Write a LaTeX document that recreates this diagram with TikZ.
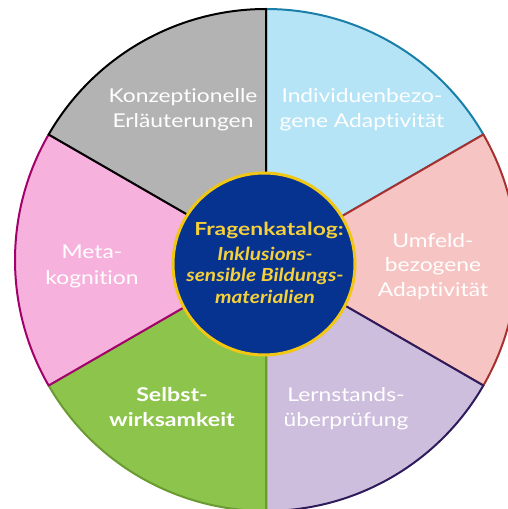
\documentclass[tikz,border=0pt]{standalone}
\usepackage{fontspec}
\setmainfont{Lato}
\newfontfamily\lbfont{Lato}[FakeStretch=1.2, Ligatures=CommonOff]
\newfontfamily\sbfont{Lato}[FakeStretch=1.22, Ligatures=CommonOff]
\newfontfamily\hbfont{Lato}[FakeStretch=1.27, Ligatures=CommonOff]
\newfontfamily\hifont{Lato}[FakeStretch=1.16, Ligatures=CommonOff]
\definecolor{cgray}{HTML}{B3B3B3}
\definecolor{cblue}{HTML}{B5E4F6}
\definecolor{bblue}{HTML}{1A7FA8}
\definecolor{csalmon}{HTML}{F6C4C2}
\definecolor{bsalmon}{HTML}{A8302F}
\definecolor{clav}{HTML}{CEBEDD}
\definecolor{blav}{HTML}{2D1B5C}
\definecolor{cgreen}{HTML}{8DC44B}
\definecolor{bgreen}{HTML}{6A9A32}
\definecolor{cpink}{HTML}{F6B2DD}
\definecolor{bpink}{HTML}{A3006B}
\definecolor{cnavy}{HTML}{06338F}
\definecolor{cgold}{HTML}{F2C713}
\definecolor{ctext}{HTML}{F5D03A}
\begin{document}
\begin{tikzpicture}[x=1pt,y=1pt,
  sector/.style={line width=2pt, line join=round},
  lbl/.style={text=white, font=\lbfont\fontsize{19}{23}\selectfont, anchor=base, inner sep=0pt},
  lblb/.style={lbl, font=\sbfont\fontsize{19}{23}\selectfont\bfseries},
  hubt/.style={text=ctext, anchor=base, inner sep=0pt, font=\hifont\fontsize{18}{20}\selectfont\bfseries\itshape},
  hubtu/.style={hubt, font=\hbfont\fontsize{18}{20}\selectfont\bfseries}]
\useasboundingbox (0,0) rectangle (508,509);
\clip (0,0) rectangle (508,509);
\coordinate (O) at (266,249);
\filldraw[sector, fill=cblue, draw=bblue] (O) -- +(30:251) arc[start angle=30, end angle=90, radius=251] -- cycle;
\filldraw[sector, fill=csalmon, draw=bsalmon] (O) -- +(-30:251) arc[start angle=-30, end angle=30, radius=251] -- cycle;
\filldraw[sector, fill=clav, draw=blav] (O) -- +(-90:251) arc[start angle=-90, end angle=-30, radius=251] -- cycle;
\filldraw[sector, fill=cgreen, draw=bgreen] (O) -- +(210:251) arc[start angle=210, end angle=270, radius=251] -- cycle;
\filldraw[sector, fill=cpink, draw=bpink] (O) -- +(150:251) arc[start angle=150, end angle=210, radius=251] -- cycle;
\filldraw[sector, fill=cgray, draw=black] (O) -- +(90:251) arc[start angle=90, end angle=150, radius=251] -- cycle;
\node[circle, fill=cnavy, draw=cgold, line width=3pt, minimum size=182pt, inner sep=0pt] (hub) at (264,245) {};
\node[lbl] (k1) at (183,406) {Konzeptionelle};
\node[lbl] (k2) at (183,381) {Erläuterungen};
\node[lbl] (i1) at (362,406) {Individuenbezo-};
\node[lbl] (i2) at (362,381) {gene Adaptivität};
\node[lbl] (u1) at (433,261) {Umfeld-};
\node[lbl] (u2) at (433,237) {bezogene};
\node[lbl] (u3) at (433,212) {Adaptivität};
\node[lbl] (m1) at (92,250) {Meta-};
\node[lbl] (m2) at (92,224) {kognition};
\node[lblb] (s1) at (172,107) {Selbst-};
\node[lblb] (s2) at (172,82) {wirksamkeit};
\node[lbl] (l1) at (346,107) {Lernstands-};
\node[lbl] (l2) at (346,82) {überprüfung};
\node[hubtu] (f1) at (269,273) {Fragenkatalog:};
\node[hubt] (f2) at (265,248) {Inklusions-};
\node[hubt] (f3) at (265,227) {sensible Bildungs-};
\node[hubt] (f4) at (265,205) {materialien};
\end{tikzpicture}
\end{document}
